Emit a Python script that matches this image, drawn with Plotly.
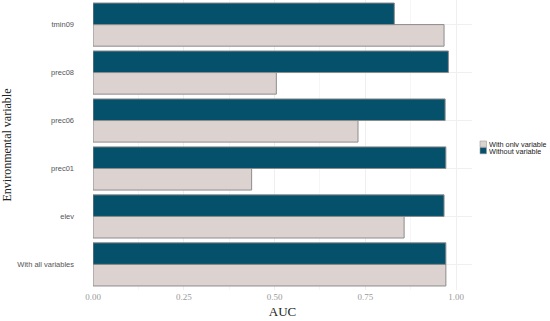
import plotly.graph_objects as go

categories = ["With all variables", "elev", "prec01", "prec06", "prec08", "tmin09"]
with_only = [0.972, 0.857, 0.437, 0.73, 0.505, 0.967]
without = [0.972, 0.967, 0.972, 0.97, 0.979, 0.83]
x_ticks = [0, 0.25, 0.5, 0.75, 1.0]
x_tick_labels = ["0.00", "0.25", "0.50", "0.75", "1.00"]
series_names = ["With only variable", "Without variable"]
series_colors = ["#DCD3D1", "#05506B"]

W, H = 550, 321
ML, MR, MT, MB = 93, 78, 0, 31
PW, PH = W - ML - MR, H - MT - MB

fig = go.Figure()
for name, vals, col in zip(series_names, [with_only, without], series_colors):
    fig.add_trace(go.Bar(
        y=categories, x=vals, orientation="h", name=name,
        marker=dict(color=col, line=dict(color="#8C8C8C", width=1)),
    ))

# manual compact legend (ggplot style)
def px2x(px):
    return (px - ML) / PW

def px2y(py):
    return 1 - (py - MT) / PH

for i, (name, col) in enumerate(zip(series_names, series_colors)):
    top = 141 + i * 6.6
    fig.add_shape(type="rect", xref="paper", yref="paper",
                  x0=px2x(480), x1=px2x(486.5), y0=px2y(top), y1=px2y(top + 6.2),
                  fillcolor=col, line=dict(color="#9a9a9a", width=0.6))
    fig.add_annotation(xref="paper", yref="paper", x=px2x(488), y=px2y(top + 3.1),
                       text=name, showarrow=False, xanchor="left", yanchor="middle",
                       height=6, borderpad=0,
                       font=dict(family="Liberation Sans, Arial, sans-serif", size=7.3, color="#222"))

serif = "Liberation Serif, Times New Roman, serif"
sans = "Liberation Sans, Arial, sans-serif"

fig.update_layout(
    width=W, height=H,
    margin=dict(l=ML, r=MR, t=MT, b=MB),
    paper_bgcolor="white", plot_bgcolor="white",
    barmode="group", bargap=0.1, bargroupgap=0,
    showlegend=False,
    xaxis=dict(
        range=[0, 1.044], tickvals=x_ticks, ticktext=x_tick_labels,
        tickfont=dict(family=serif, size=9, color="#9a9a9a"),
        showgrid=True, gridcolor="#EFEFEF", gridwidth=1,
        minor=dict(tickvals=[0.125, 0.375, 0.625, 0.875], showgrid=True, gridcolor="#F6F6F6"),
        zeroline=False, showline=False, ticks="", automargin=False,
        title=dict(text="AUC", font=dict(family=serif, size=13, color="#222"), standoff=5),
    ),
    yaxis=dict(
        categoryorder="array", categoryarray=categories,
        range=[-0.534, 5.513],
        tickfont=dict(family=sans, size=7.5, color="#555"),
        showgrid=True, gridcolor="#EFEFEF", zeroline=False, showline=False, ticks="",
        ticklabelstandoff=18, automargin=False,
        title=dict(text="Environmental variable", font=dict(family=serif, size=12, color="#222"), standoff=5),
    ),
)

fig.write_html("out.html", config={"displayModeBar": False},
               post_script="document.body.style.margin='0';document.body.style.overflow='hidden';")
